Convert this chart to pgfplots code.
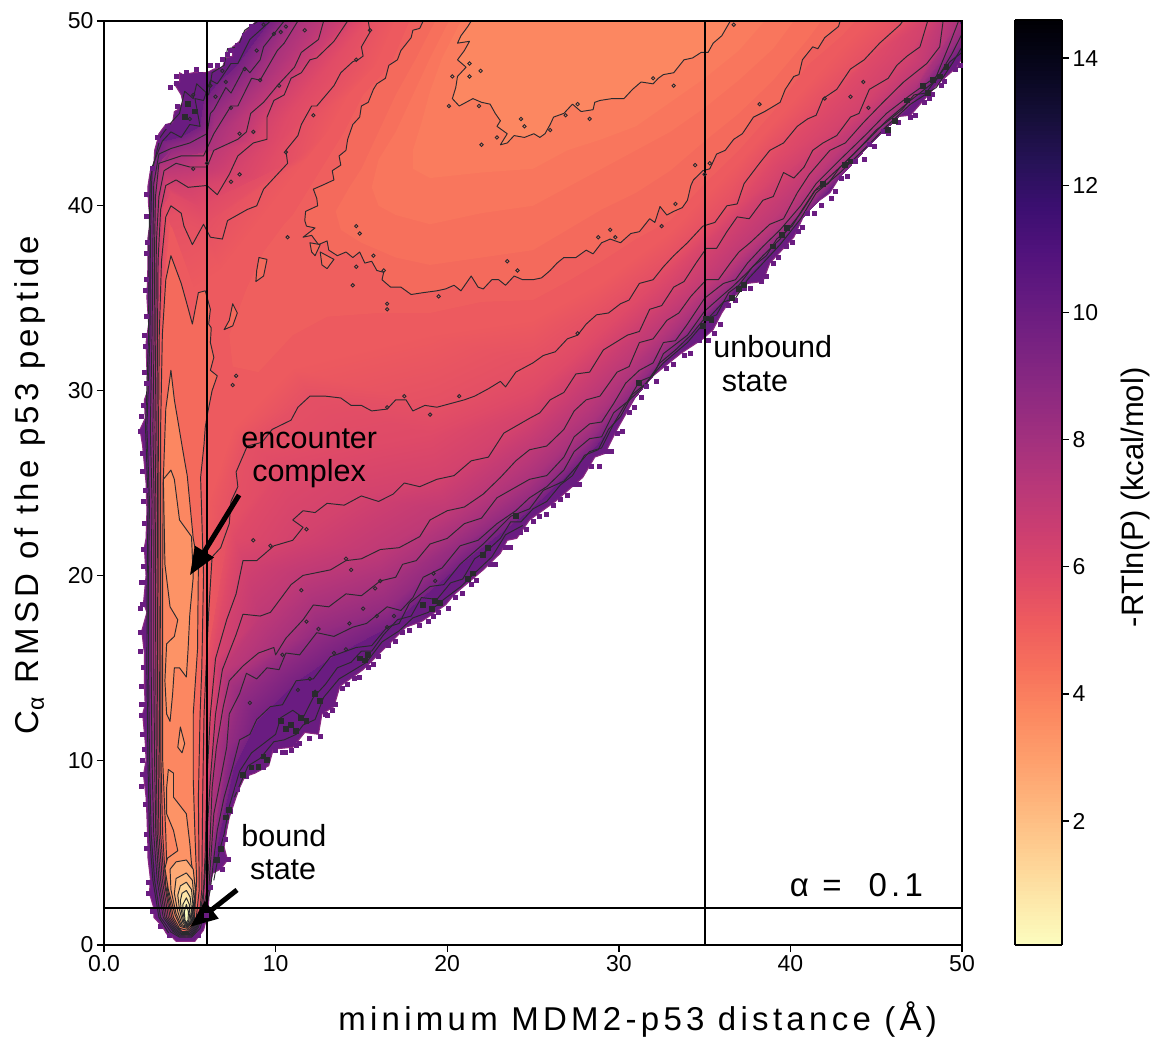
\documentclass[border=0pt]{standalone}
\usepackage{fontspec}
\setmainfont{Liberation Sans}
\newfontfamily\spaced[LetterSpace=13]{Liberation Sans}
\usepackage{pgfplots}
\pgfplotsset{compat=1.18}
\usetikzlibrary{arrows.meta}
\definecolor{vedge}{HTML}{6A1C81}
\definecolor{vrim}{HTML}{8C2981}
\definecolor{f52}{HTML}{ED5A5F}
\definecolor{f50}{HTML}{EF5F5E}
\definecolor{f46}{HTML}{F46A5C}
\definecolor{f44}{HTML}{F7705C}
\definecolor{f42}{HTML}{F9765D}
\definecolor{f40}{HTML}{FA7C5E}
\definecolor{viv}{HTML}{FC8761}
\definecolor{viii3}{HTML}{FD9366}
\definecolor{ba}{HTML}{FEA975}
\definecolor{bb}{HTML}{FEBB82}
\definecolor{bc}{HTML}{FED79A}
\definecolor{bd}{HTML}{FDE5A7}
\definecolor{be}{HTML}{FDF0B2}
\definecolor{bf}{HTML}{FCFDBF}
\definecolor{bg}{HTML}{FCFDBF}
\definecolor{cl}{HTML}{2A2A2E}
\pgfplotsset{
  ct/.style={draw=cl,line width=0.95pt,line join=round},
  dots/.style={only marks,mark=o,mark size=1.7pt,mark options={draw=cl,line width=0.9pt,fill=none}},
  blobs/.style={only marks,mark=square*,mark size=2.4pt,mark options={draw=cl,fill=cl,line width=0pt}},
  pix/.style={only marks,mark=square*,mark size=2pt,mark options={draw=vedge,fill=vedge,line width=0pt}},
}
\begin{document}
\begin{tikzpicture}
\useasboundingbox (-104pt,-94pt) rectangle (1052pt,945pt);
\begin{axis}[
  at={(0pt,0pt)},anchor=south west,scale only axis,width=858pt,height=924pt,
  xmin=0,xmax=50,ymin=0,ymax=50,axis on top,
  axis line style={line width=1.6pt},
  tick align=outside,tick pos=left,major tick length=7pt,
  tick style={line width=1.4pt,black},
  xtick={0,10,20,30,40,50},xticklabels={0.0,10,20,30,40,50},
  ytick={0,10,20,30,40,50},
  /pgf/number format/assume math mode=true,
  tick label style={font=\fontsize{23}{26}\selectfont},
  xlabel={\spaced minimum MDM2-p53 distance (Å)},
  ylabel={\spaced C\raisebox{-0.3ex}{\fontsize{23}{24}\selectfont α} RMSD of the p53 peptide},
  label style={font=\fontsize{33}{36}\selectfont},
  xlabel style={at={(axis description cs:0.622,-0.081)},anchor=center},
  ylabel style={at={(axis description cs:-0.086,0.498)},anchor=center},
  colormap={magmar}{rgb255=(252,253,191) rgb255=(253,231,169) rgb255=(254,207,146) rgb255=(254,183,126) rgb255=(254,159,109) rgb255=(252,137,97) rgb255=(247,112,92) rgb255=(238,91,94) rgb255=(222,73,104) rgb255=(203,62,113) rgb255=(183,55,121) rgb255=(161,48,126) rgb255=(140,41,129) rgb255=(120,34,129) rgb255=(100,26,128) rgb255=(81,18,124) rgb255=(59,15,112) rgb255=(37,18,85) rgb255=(20,14,54) rgb255=(7,6,28) rgb255=(0,0,4)},
  point meta min=0.05,point meta max=14.6,
  colorbar sampled,
  colorbar style={
    at={(1.0618,1.0011)},anchor=north west,scale only axis,width=47pt,height=925pt,
    samples=220,
    axis line style={line width=1.4pt},
    ytick={2,4,6,8,10,12,14},ytick pos=right,yticklabel pos=right,tick align=outside,
    major tick length=7pt,tick style={line width=1.4pt,black},
    /pgf/number format/assume math mode=true,
    tick label style={font=\fontsize{23}{26}\selectfont},
    ylabel={-RTln(P) (kcal/mol)},
    ylabel style={font=\fontsize{31}{33}\selectfont,at={(axis description cs:2.57,0.484)},anchor=center},
  },
]
% outer edge of the sampled region
\addplot[fill=vedge,draw=vrim,line width=1pt] coordinates {(8.9,50)(8.4,49.6)(8.1,49.3)(7.9,48.9)(7.5,48.6)(7.5,48.1)(7.1,48)(6.9,47.5)(6.4,47.4)(6,47.2)(5.2,47.2)(4.6,47.1)(4.4,47.2)(4.4,46.7)(4.1,46.6)(4.5,46)(4.6,45.6)(4.3,45.2)(4.1,45.1)(4,44.5)(3.6,44.4)(3.2,43.9)(3.1,43.5)(2.95,43)(2.9,42.2)(2.7,41.9)(2.55,41)(2.6,40)(2.7,39.2)(2.55,38.2)(2.55,36.5)(2.5,35)(2.6,33.6)(2.45,32.6)(2.5,31)(2.55,30)(2.35,29.5)(2.4,28.5)(2.1,27.9)(2.25,27)(2.35,26)(2.45,25)(2.5,23.5)(2.45,22)(2.35,21.5)(2.45,20)(2.3,18.5)(2.5,18)(2.2,17)(2.35,15.8)(2.35,14)(2.4,13)(2.25,12.5)(2.4,11)(2.45,10)(2.3,9.2)(2.45,8)(2.5,7)(2.55,5.5)(2.55,4.8)(2.7,3.6)(2.65,2.8)(2.9,2)(2.9,1.5)(3.1,1.3)(3.4,1)(3.65,0.6)(3.95,0.45)(4.2,0.2)(5.3,0.2)(5.5,0.45)(5.8,0.8)(6,1.5)(6.1,2.3)(6.15,3.2)(6.35,3.9)(6.8,4.1)(7.2,4.6)(7,5.3)(7.15,6.2)(7.3,6.9)(7.7,8)(7.9,8.5)(8.2,9.1)(8.8,9.3)(9.6,9.7)(9.87,10.6)(11,10.7)(11.7,11.5)(12.5,11.4)(12.7,12.5)(13.4,12.9)(13.75,14)(15.1,14.9)(16.3,16)(17.6,17.2)(18.5,17.5)(19.9,18.4)(20.45,19)(22.1,20.3)(23.1,21.2)(23.5,21.9)(24.05,22)(24.8,23)(26.3,24)(27.9,25.3)(28.6,26.4)(29.2,26.6)(29.9,27.9)(31,29.7)(32,30.8)(33.6,32)(34.9,32.8)(35.5,33.3)(36,34.2)(36.5,34.9)(37.5,35.8)(38.4,35.9)(38.8,36.9)(40.2,38.3)(40.95,39.8)(42.3,40.7)(42.9,41.6)(44.05,42.8)(45.2,43.9)(46,44.8)(47,44.9)(47.75,45.7)(48.6,46.6)(49.7,47.5)(50,48)(50,50)} --cycle;
% pixels that stand out of the edge
\addplot[pix] coordinates {(8.6,49.7)(8.2,49.2)(7.8,48.7)(7.2,48.2)(6.6,47.6)(5.6,47.1)(4.6,47)(4.2,46.6)(4.3,45.4)(3.7,44.3)(3.1,43.7)(2.8,42)(2.5,40.6)(2.55,38)(2.45,36)(2.5,34)(2.4,32.4)(2.45,30.4)(2.3,29.2)(2.15,27.8)(2.25,26.6)(2.4,24.6)(2.3,21.4)(2.35,19.6)(2.25,18.4)(2.15,16.9)(2.3,15)(2.35,13)(2.2,12.4)(2.35,10.6)(2.25,9.2)(2.4,7.6)(2.5,6)(2.45,5.2)(2.6,3.4)(2.6,2.8)(2.85,1.8)(3.3,1)(3.8,0.5)(5.5,0.5)(6,1.6)(6.2,3.1)(6.9,4.1)(7.25,4.6)(7.1,5.7)(7.4,7.2)(7.8,8.4)(8.3,9.1)(9.3,9.6)(10,10.5)(10.6,10.4)(11.2,10.8)(12,11.2)(12.6,11.3)(12.9,12.5)(13.5,13)(13.9,13.9)(14.6,14.4)(15.4,15)(16.6,16.2)(17.4,16.9)(18.4,17.3)(19.5,18)(20.5,18.8)(21.4,19.5)(22.5,20.6)(23.4,21.5)(24.3,22.3)(25.4,23.2)(26.6,24.1)(27.4,24.9)(28.4,25.9)(29.3,26.7)(29.9,27.7)(30.6,28.8)(31.6,30.2)(32.8,31.2)(33.8,31.9)(34.7,32.7)(35.6,33.1)(36.4,34.6)(37.3,35.5)(38.3,35.9)(39,36.9)(39.8,37.8)(40.5,38.6)(41,39.6)(42.4,40.4)(43,41.5)(43.8,42.4)(44.6,43.3)(45.4,44)(47,44.8)(47.8,45.6)(48.8,46.5)(49.6,47.4)(10.4,10.4)(10.9,10.5)(11.4,10.9)(13,12.4)(13.3,12.7)(14.2,14.1)(14.9,14.5)(15.7,15.2)(16,15.6)(17,16.4)(17.8,17)(18.9,17.5)(19.2,17.8)(20.1,18.2)(20.9,19)(21.7,19.7)(22.8,20.6)(23.7,21.5)(24.6,22.5)(25,22.9)(25.8,23.3)(26.2,23.8)(27,24.3)(27.7,24.9)(28.9,25.9)(29.6,26.7)(30.2,27.8)(30.9,29.1)(31.3,29.6)(32.2,30.5)(33.2,31.4)(34.2,32)(35.2,32.7)(35.9,33.6)(36.8,34.9)(37.7,35.5)(38.6,36.2)(39.3,37.2)(40.1,38)(40.7,38.8)(41.4,39.6)(41.8,40)(42.6,40.8)(43.3,41.6)(44.3,42.5)(44.9,43.2)(45.7,43.9)(46.3,44.5)(47.3,44.9)(48.1,45.8)(48.3,46)(49,46.7)(49.9,47.6)(8.5,49.4)(7.4,48.4)(6.9,47.9)(6.2,47.6)(5.4,47.4)(4.8,47.2)(4.2,47)(3.9,46.4)(2.5,39.4)(2.45,37.4)(2.4,35.4)(2.35,33)(2.35,31)(2.2,28.6)(2.25,25.6)(2.3,24)(2.35,22.8)(2.3,20.5)(2.2,19.6)(2.15,18.2)(2.1,15.9)(2.2,14)(2.2,13)(2.25,11.4)(2.25,10)(2.2,8.6)};
% smooth shading between the contour levels
\addplot[surf,shader=interp,mesh/cols=30,point meta=\thisrow{v}] table[row sep=\\] {x y v\\
9.7 50 9.5\\7.8 47.7 9.5\\6.6 46.6 9.5\\5.8 45.7 9.5\\5.6 44.3 9.5\\4.5 43.7 9.5\\3.4 43.5 9.5\\2.8 42.1 9.5\\2.68 33 9.5\\2.6 20 9.5\\2.65 10 9.5\\2.75 6 9.5\\3.3 1.5 9.5\\4.75 0.42 9.5\\5.95 2 9.5\\6.4 4.7 9.5\\7.5 9.65 9.5\\8.9 12.2 9.5\\11.2 14.3 9.5\\13.2 15.6 9.5\\16.5 17.2 9.5\\20.75 20.6 9.5\\24.8 23.6 9.5\\28.3 26.7 9.5\\32.6 31.5 9.5\\36.1 34.8 9.5\\40.6 39.3 9.5\\44.45 43.2 9.5\\47 45.5 9.5\\50 48.6 9.5\\
10.5 50 8.5\\8.5 47.2 8.5\\7.4 46.1 8.5\\6.4 45.2 8.5\\6 43.9 8.5\\5 43.4 8.5\\3.9 43.1 8.5\\2.9 41.2 8.5\\2.8 33 8.5\\2.75 20 8.5\\2.8 10 8.5\\2.9 6 8.5\\3.45 1.5 8.5\\4.75 0.48 8.5\\5.85 2 8.5\\6.25 5 8.5\\7.15 10.7 8.5\\7.9 13.6 8.5\\9.5 15 8.5\\12.4 16.9 8.5\\16.5 18.3 8.5\\20.75 21.6 8.5\\24.8 24.2 8.5\\28.3 27.4 8.5\\32.6 32 8.5\\36.1 35.2 8.5\\40.6 39.6 8.5\\44.45 43.5 8.5\\47 45.7 8.5\\50 49.3 8.5\\
11.3 50 7.75\\9.1 46.8 7.75\\7.8 45.4 7.75\\6.4 43.9 7.75\\5.8 42.7 7.75\\4.5 42.7 7.75\\3.2 42.3 7.75\\3 40.5 7.75\\2.92 33 7.75\\2.9 20 7.75\\2.95 10 7.75\\3.02 6 7.75\\3.55 1.5 7.75\\4.75 0.53 7.75\\5.8 2 7.75\\6.15 5 7.75\\6.55 10.7 7.75\\7.3 14.3 7.75\\9.9 16.1 7.75\\12.2 18.4 7.75\\16.1 19.7 7.75\\21 22.8 7.75\\24.8 25.2 7.75\\28.3 28.2 7.75\\32.6 32.6 7.75\\36.1 35.8 7.75\\40.6 40 7.75\\44.45 43.9 7.75\\47 46 7.75\\49.8 50 7.75\\
12.8 50 7.05\\10.1 46.5 7.05\\8.55 45 7.05\\7.8 43.6 7.05\\6.4 43 7.05\\5 42.1 7.05\\3.5 41.9 7.05\\3.2 40.5 7.05\\3.02 33 7.05\\3 20 7.05\\3.05 10 7.05\\3.1 6 7.05\\3.65 1.5 7.05\\4.75 0.58 7.05\\5.75 2 7.05\\5.95 5 7.05\\6.2 9 7.05\\6.9 14.9 7.05\\9.1 17.8 7.05\\11.6 20 7.05\\16.1 21.4 7.05\\20 23.5 7.05\\24.8 26.8 7.05\\28.1 29.5 7.05\\32.8 33.8 7.05\\36.5 36.9 7.05\\40.4 40.7 7.05\\44.25 44.5 7.05\\47.95 47.7 7.05\\48.9 50 7.05\\
14.2 50 6.3\\11.5 47.2 6.3\\9.5 44.8 6.3\\8.7 43.4 6.3\\7.3 41.7 6.3\\4.9 41 6.3\\3.6 41.1 6.3\\3.3 39.8 6.3\\3.12 33 6.3\\3.1 20 6.3\\3.15 10 6.3\\3.2 6 6.3\\3.75 1.5 6.3\\4.75 0.63 6.3\\5.65 2 6.3\\5.9 5 6.3\\6 9 6.3\\6.5 15.5 6.3\\8.1 20.8 6.3\\11 21.9 6.3\\15 24.3 6.3\\19.4 25.2 6.3\\24.8 28.5 6.3\\27.5 30.9 6.3\\33.2 35.6 6.3\\36.9 39.4 6.3\\39.6 41.8 6.3\\43.5 44.8 6.3\\46.8 48.1 6.3\\48 50 6.3\\
14.8 50 5.85\\12 46.5 5.85\\10.7 44.9 5.85\\10 43.4 5.85\\8.9 41.5 5.85\\5.5 40 5.85\\3.9 40.7 5.85\\3.45 40 5.85\\3.16 33 5.85\\3.16 20 5.85\\3.2 10 5.85\\3.25 6 5.85\\3.8 1.5 5.85\\4.75 0.66 5.85\\5.62 2 5.85\\5.8 5 5.85\\5.9 9 5.85\\6.2 15 5.85\\7.6 22 5.85\\10.5 26 5.85\\15 26.9 5.85\\19 27.6 5.85\\25 30 5.85\\27 31.5 5.85\\33 36.5 5.85\\37 40.2 5.85\\39 42.5 5.85\\43 46.3 5.85\\45 48.3 5.85\\47 50 5.85\\
15.4 50 5.6\\13.8 47.2 5.6\\12.4 45.4 5.6\\11.5 44.4 5.6\\10.7 42.3 5.6\\5.8 39 5.6\\4.5 39.6 5.6\\3.6 39.4 5.6\\3.22 33 5.6\\3.2 20 5.6\\3.25 10 5.6\\3.3 6 5.6\\3.85 1.5 5.6\\4.75 0.68 5.6\\5.6 2 5.6\\5.72 5 5.6\\5.78 9 5.6\\5.95 15 5.6\\7.3 22.8 5.6\\8.35 27 5.6\\12 29.7 5.6\\19.4 29.1 5.6\\25 31.5 5.6\\28.1 33.6 5.6\\32.6 36.7 5.6\\36.3 40 5.6\\38.8 43 5.6\\41.9 45.8 5.6\\45.2 48.8 5.6\\46.55 50 5.6\\
17 50 5.2\\15.9 47.6 5.2\\14.3 46 5.2\\13.1 44 5.2\\12 42.7 5.2\\6.8 36.5 5.2\\5.2 35.5 5.2\\3.9 38.8 5.2\\3.25 33 5.2\\3.25 20 5.2\\3.28 10 5.2\\3.38 6 5.2\\3.9 1.5 5.2\\4.75 0.7 5.2\\5.5 2 5.2\\5.6 5 5.2\\5.65 9 5.2\\5.8 15 5.2\\6.1 24 5.2\\7.5 28 5.2\\11 31.2 5.2\\19 33 5.2\\25 33.8 5.2\\29 35.9 5.2\\33 38.6 5.2\\37 42.4 5.2\\39 44.5 5.2\\41 46.6 5.2\\43 48.6 5.2\\44.5 50 5.2\\
};
% the region inside the shaded band
\addplot[fill=f52,draw=f52,line width=2.5pt,line join=round] coordinates {(17,50)(15.9,47.6)(14.3,46)(13.1,44)(12,42.7)(6.8,36.5)(5.2,35.5)(3.9,38.8)(3.27,33)(3.27,20)(3.3,10)(3.4,6)(3.92,1.6)(4.75,0.75)(5.48,2)(5.58,5)(5.63,9)(5.78,15)(6.1,24)(7.5,28)(11,31.2)(19,33)(25,33.8)(29,35.9)(33,38.6)(37,42.4)(39,44.5)(41,46.6)(43,48.6)(44.5,50)} --cycle;
\addplot[fill=f50,draw=none] coordinates {(17.8,50)(16.7,47.6)(15.1,46)(14,44)(13,42.5)(12,41)(11,39.5)(10.5,39)(9.3,37.5)(8.3,35.5)(7.3,33)(7.5,31.3)(9,31)(11,33)(13,34)(16,34.2)(19,34.2)(22,34.8)(25,34.9)(27,35.9)(29,37)(31,38.2)(33,39.2)(35,41.2)(37,43)(39,45.1)(41,47.6)(43,49.2)(43.8,50)} --cycle;
% level 5, open fan
\addplot[fill=f46,ct] coordinates {(18.6,50)(18.4,49.6)(18,49.5)(17.9,49.1)(17.3,48.4)(17.1,47.9)(16.6,47.6)(16.4,46.9)(15.9,46.6)(15.7,46.3)(15.4,45.6)(15,45.4)(14.9,44.8)(14.5,44.4)(14.2,43.6)(14.1,43)(13.7,42.7)(13.8,42.2)(13.3,41.9)(13.4,41.4)(12.7,41.1)(12.2,40.9)(12.4,40.4)(12.45,40)(11.75,39.7)(11.7,39.2)(11.8,38.9)(12.3,38.8)(11.6,38.3)(12.1,38.4)(12.5,37.9)(13,38.1)(13.1,37.6)(13.6,37.3)(14.1,37.5)(14.5,37.2)(14.9,37.5)(15.2,36.9)(15.6,37)(15.9,36.5)(16.3,36.4)(16.2,36)(16.7,35.6)(17.3,35.6)(17.9,35.2)(18.6,35.3)(19.4,35.4)(19.9,35.5)(20.4,35.7)(20.8,35.4)(21.4,36.2)(21.8,35.6)(22.1,35.5)(22.6,36)(23,36)(23.4,35.7)(23.9,36.2)(24.4,36)(25,36)(25.5,36.1)(26,36.5)(26.4,36.9)(26.8,37.2)(27.5,37.2)(28.1,37.6)(28.5,37.4)(29,38)(29.5,38.2)(30.1,38)(30.7,38.5)(31.2,38.6)(31.8,39.3)(32.1,39.1)(32.4,39.96)(32.8,39.5)(33.2,39.7)(33.7,39.9)(34,40.3)(34.2,41.1)(34.35,41.4)(34.9,41.9)(35.3,42)(35.7,42.8)(36.2,43)(36.7,43.6)(37.2,43.9)(37.85,44.8)(38.5,45.1)(39.4,45.6)(39.7,46.3)(40.2,47)(40.5,47.1)(40.7,47.9)(41.3,48.6)(41.6,48.5)(42,49.1)(42.8,49.7)(42.9,50)} --cycle;
% level 5, channel
\addplot[fill=f46,ct] coordinates {(3.9,37.3)(4.5,35.8)(4.8,34.8)(5.15,33.6)(5.5,35.3)(5.9,35.4)(6.2,34.4)(6.1,33.6)(6.25,33.4)(6.2,32.6)(6.4,31.8)(6.2,31.1)(6.6,30.8)(6.3,30)(6,28.6)(5.9,28)(5.83,27.1)(5.63,25.3)(5.8,20)(5.7,15)(5.6,12.5)(5.5,8)(5.55,3)(5.35,1.25)(4.9,0.72)(4.55,0.72)(4.25,1)(3.95,1.5)(3.6,3.2)(3.42,6)(3.32,10)(3.3,20)(3.3,28)(3.4,33)(3.6,36)} --cycle;
% small closed level 5 loops
\addplot[fill=f46,ct] coordinates {(9.03,37.2)(9.5,37.1)(9.3,36.2)(8.85,35.9)(8.9,36.5)} --cycle;
\addplot[fill=f46,ct] coordinates {(7.5,34.7)(7.77,34.2)(7.5,33.5)(7,33.3)(7.3,33.8)} --cycle;
\addplot[fill=f46,ct] coordinates {(12.6,37.5)(13.4,37.1)(13,36.6)(12.7,36.8)} --cycle;
\addplot[fill=f46,ct] coordinates {(12,38)(12.6,37.9)(12.3,37.3)(12.1,37.5)} --cycle;
\addplot[fill=f46,ct] coordinates {(32.9,47)(34.5,47.9)(34.6,47.5)(33.4,46.8)} --cycle;
% inside level 5, no line
\addplot[fill=f44,draw=none] coordinates {(19.3,50)(18.2,48)(17,46)(16,44)(15,42)(14.3,41)(13.5,39.7)(13.8,38.7)(15,38)(17,37.2)(19,36.8)(22,37.2)(25,37.6)(27,38.7)(29,39.8)(31,40.7)(33,41.9)(35,43.5)(37,45)(39,46.8)(41,49)(41.8,50)} --cycle;
\addplot[fill=f42,draw=none] coordinates {(20.1,50)(19,48)(18,46)(17,44)(16,42.5)(15.6,41)(16,40)(17,39.5)(19,39)(22,39.6)(25,40)(27,41)(29,42)(31,43)(33,44)(35,45.3)(37,46.8)(39,48.5)(40.2,50)} --cycle;
\addplot[fill=f40,draw=none] coordinates {(20.8,50)(19.7,48)(19,46.2)(18.5,44.5)(18,43)(18,42)(19,41.5)(22,41.8)(25,42)(27,43)(29,43.6)(31,44.3)(33,45.6)(35,46.9)(37,48.4)(38.5,50)} --cycle;
% level 4
\addplot[fill=viv,ct] coordinates {(21.4,50)(21.2,49.7)(20.8,49.2)(20.6,48.8)(21.3,48.9)(21,48.4)(20.6,47.9)(21.1,47.5)(20.6,47)(20.5,46.4)(20.3,45.8)(20.7,45.4)(21.1,45.6)(21.5,45.8)(22,45.6)(22.5,45.5)(22.8,45)(23.1,44.6)(22.9,44.3)(23.5,43.9)(23.1,43.3)(23.5,43.4)(23.9,43.8)(24.5,43.7)(25.05,43.9)(25.4,43.7)(25.7,43.9)(26,44.4)(26.2,44.8)(26.8,45)(27.3,45.5)(27.8,45.1)(28.5,45.2)(28.6,45.6)(28.9,45.7)(29.6,45.8)(30.3,45.8)(30.8,46.3)(31.3,46.7)(32,46.6)(32.3,46.9)(32.6,47.1)(33.2,47.2)(33.8,47.9)(34.3,48)(34.8,48.3)(35.2,48.3)(35.5,48.8)(36,49.2)(36.5,50)} --cycle;
\addplot[fill=viv,ct] coordinates {(3.9,31.1)(4.1,29.5)(4.66,26.4)(4.85,25.4)(5.2,22)(5.5,20.5)(5.45,16)(5.2,12.5)(5.2,9)(5.3,6)(5.4,3.5)(5.25,1.2)(4.85,0.8)(4.4,0.9)(4.05,1.5)(3.7,3)(3.6,6)(3.42,10)(3.42,20)(3.45,25)(3.6,29)} --cycle;
% level 3, two lobes
\addplot[fill=viii3,ct] coordinates {(3.9,25.7)(4.1,25.2)(4.4,23)(5.1,22.1)(5.2,19.9)(5,17.9)(4.9,16)(4.8,14.5)(4.4,15)(4.1,15)(4,13.6)(3.85,12.1)(3.65,12.5)(3.55,14.3)(3.65,16.3)(4.1,16.7)(4.3,17.6)(3.85,18.3)(3.55,20.6)(3.46,25.2)} --cycle;
\addplot[fill=viii3,ct] coordinates {(4.45,11.8)(4.7,10.9)(4.55,10.4)(4.3,10.7)} --cycle;
\addplot[fill=viii3,ct] coordinates {(3.75,9.5)(4.05,9.3)(4.05,8)(4.8,7.1)(5,5.5)(5.1,4.4)(5.35,3)(5.2,1.3)(4.85,0.9)(4.45,1)(4.15,1.6)(3.75,3)(3.55,4.15)(3.7,4.7)(4.3,5.1)(4.05,6.2)(3.65,7.1)(3.65,8.5)} --cycle;
% the bound basin
\addplot[fill=ba,ct] coordinates {(4.8,4.6)(5.2,4.1)(5.32,3)(5.15,1.3)(4.85,0.95)(4.5,1.05)(4.2,1.7)(3.9,3)(3.85,4.1)(4.2,4.5)} --cycle;
\addplot[fill=bb,ct] coordinates {(4.8,3.9)(5.15,3.5)(5.25,2.5)(5.1,1.3)(4.85,1)(4.55,1.1)(4.3,1.8)(4.1,2.8)(4.2,3.6)} --cycle;
\addplot[fill=bc,ct] coordinates {(4.8,3.4)(5.1,3)(5.18,2.2)(5.05,1.25)(4.82,1.03)(4.6,1.2)(4.4,1.9)(4.3,2.7)(4.45,3.2)} --cycle;
\addplot[fill=bd,ct] coordinates {(4.8,2.95)(5.02,2.6)(5.1,1.9)(5,1.25)(4.82,1.07)(4.65,1.25)(4.5,1.9)(4.45,2.4)(4.55,2.8)} --cycle;
\addplot[fill=be,ct] coordinates {(4.8,2.55)(4.97,2.2)(5,1.7)(4.93,1.25)(4.8,1.12)(4.7,1.3)(4.6,1.8)(4.6,2.2)} --cycle;
\addplot[fill=bf,ct] coordinates {(4.8,2.2)(4.92,1.8)(4.9,1.35)(4.8,1.2)(4.72,1.35)(4.68,1.8)} --cycle;
% contour lines of the shaded band
% outermost levels close to the edge
\addplot[ct] coordinates {(6.4,3.5)(6.7,5)(7,6)(7.3,7.5)(7.9,9.4)(8.6,10.4)(9.3,10.9)(10,11.4)(10.3,12.3)(11,12.7)(11.6,12.3)(12.2,13.4)(12.9,14.1)(13.6,15)(14.4,15.3)(15,15.9)(15.6,15.9)(16.3,16.8)(17.1,17.6)(17.9,17.8)(18.5,18.8)(19.4,18.7)(20.2,19.6)(20.9,19.8)(21.6,20.9)(22.4,21.4)(23.1,22)(23.7,22.9)(24.3,22.9)(25,23.6)(25.8,24)(26.6,24.9)(27.3,25.4)(28,26.5)(28.8,26.8)(29.4,27.9)(30.1,28.6)(30.8,29.8)(31.6,30.4)(32.4,31.5)(33.3,32.2)(34.2,33)(34.9,33.8)(35.7,34.1)(36.4,35.3)(37,35.7)(37.8,36.7)(38.6,37.3)(39.2,38.2)(40.1,38.9)(40.7,39.8)(41.4,40.8)(42.2,41.2)(42.9,42.1)(43.7,42.8)(44.4,43.5)(45,44.1)(45.7,44.6)(46.5,45.2)(47.2,46)(47.9,46.1)(48.6,47)(49.3,47.8)(50,48.3)};
\addplot[ct] coordinates {(7.6,8)(8.4,9.7)(9.1,10.1)(9.9,11)(10.5,11.1)(11.2,11.4)(11.6,11.9)(12.3,12.2)(12.8,13.4)(13.7,14.4)(14.6,14.9)(15.3,15.3)(16.2,16.4)(17.2,17)(18,17.7)(18.9,18)(19.8,18.7)(20.8,19.4)(21.8,20.3)(22.6,21)(23.4,22.2)(24.4,22.7)};
\addplot[ct] coordinates {(9,50)(8.2,49.5)(7.8,48.6)(7.2,48.5)(7,47.6)(6.3,47.2)(6.1,46)(5.4,46.6)(5.2,45.8)(4.7,46.2)(4.4,45)(4,44.6)(3.5,44)(3.2,43.6)};
\addplot[ct] coordinates {(3.2,43.4)(2.7,41.5)(2.62,38)(2.6,33)(2.42,28)(2.57,24)(2.52,20)(2.5,15)(2.56,10)(2.65,6)(2.85,3.5)(3.2,1.5)(3.8,0.6)};
% level 11
\addplot[ct] coordinates {(9.7,50)(8.5,49)(7.8,47.7)(7.4,47.7)(6.6,46.6)(6.2,46.8)(5.8,45.7)(5.3,45.8)(5.6,44.3)(5,44.4)(4.5,43.7)(3.9,44)(3.4,43.5)(2.8,42.1)(2.7,38)(2.68,33)(2.5,28)(2.65,24)(2.6,20)(2.6,15)(2.65,10)(2.75,6)(2.95,3.5)(3.3,1.5)(3.9,0.7)(4.4,0.42)(5.1,0.42)(5.6,0.9)(5.95,2)(6.2,3)(6.4,4.7)(6.6,6.2)(7,8)(7.5,9.65)(7.9,11.1)(8.5,11.4)(8.9,12.2)(9.7,12.9)(10.4,13)(11.2,14.3)(12.2,14.4)(13.2,15.6)(14.7,16.1)(15.6,16.2)(16.5,17.2)(17.2,17.4)(17.8,18.5)(19,19.4)(19.8,19.5)(20.75,20.6)(22.1,21.7)(23.7,23.2)(24.8,23.6)(25.6,24.6)(26.8,25.1)(28.3,26.7)(29,26.9)(29.7,28.2)(30.4,29.3)(31.2,30)(32.6,31.5)(34,32.6)(35,33.7)(36.1,34.8)(36.8,35)(37.5,36)(38.4,36.9)(39.4,37.9)(40.6,39.3)(41.5,40.7)(42.9,41.8)(44.45,43.2)(45.6,44.3)(47,45.5)(48.5,46.4)(49.5,47.8)(50,48.6)};
% level 10
\addplot[ct] coordinates {(10.5,50)(9.3,48.6)(9.1,47.9)(8.5,47.2)(8.2,47.5)(7.4,46.1)(7.1,46.4)(6.4,45.2)(6.2,45)(6,43.9)(5,43.4)(3.9,43.1)(3.2,42.8)(2.9,41.2)(2.85,38)(2.8,33)(2.7,28)(2.8,24)(2.75,20)(2.75,15)(2.8,10)(2.9,6)(3.1,3.5)(3.45,1.5)(4,0.75)(4.4,0.48)(5.1,0.48)(5.5,0.95)(5.85,2)(6.1,3)(6.25,5)(6.4,7.1)(6.8,9)(7.15,10.7)(7.3,12.5)(7.9,13.6)(8.3,14.7)(8.9,14.4)(9.5,15)(10.2,14.9)(10.6,15.8)(11.4,15.7)(12.4,16.9)(13.4,16.7)(14.5,17.2)(15.3,17.4)(16.5,18.3)(17.3,18.1)(18,18.8)(18.6,19.9)(19.7,20.4)(20.75,21.6)(21.8,21.9)(22.9,22.8)(24,23.5)(24.8,24.2)(25.8,24.8)(26.8,25.7)(27.4,26.7)(28.3,27.4)(29,27.5)(29.7,28.8)(30.5,29.4)(31.2,30.5)(32,30.8)(32.6,32)(34,33)(35,34.3)(36.1,35.2)(36.6,35.6)(37.5,36.4)(38.4,37.3)(39.4,38.2)(40.6,39.6)(41.5,40.9)(42.9,42.1)(44.45,43.5)(45.6,44.6)(47,45.7)(48.5,46.8)(49.4,48.2)(50,49.3)};
% level 9
\addplot[ct] coordinates {(11.3,50)(10.5,48.8)(10.1,48.4)(9.1,46.8)(8.6,46.9)(7.8,45.4)(7.4,45.4)(6.4,43.9)(5.8,42.7)(4.5,42.7)(3.2,42.3)(3,40.5)(2.95,38)(2.92,33)(2.85,28)(2.92,24)(2.9,20)(2.9,15)(2.95,10)(3.02,6)(3.2,3.5)(3.55,1.5)(4.05,0.8)(4.45,0.53)(5.1,0.53)(5.45,1)(5.8,2)(6,3)(6.15,5)(6.3,8.5)(6.55,10.7)(6.95,12.9)(7.3,14.3)(8.1,15.1)(9,15.8)(9.9,16.1)(10,15.7)(10.6,16.6)(11.6,17.6)(12.2,18.4)(13.1,18.3)(14.1,19)(15,18.9)(16.1,19.7)(17,19.9)(17.4,20.6)(18.2,20.8)(19,21.7)(20,22)(21,22.8)(22,23.1)(22.9,24.2)(24.8,25.2)(25.8,25.4)(26.8,26.4)(27.4,27.5)(28.3,28.2)(29,28.3)(29.7,29.3)(30.4,30.4)(31.2,31.1)(32,31.5)(32.6,32.6)(33.3,32.7)(34,33.6)(34.5,34.3)(35,35)(36.1,35.8)(36.8,36)(37.5,36.9)(38.4,37.8)(39.4,38.7)(40.6,40)(41.5,41.2)(42.9,42.5)(44.45,43.9)(45.6,45)(47,46)(48.5,47)(49.3,48.8)(49.8,50)};
% level 8
\addplot[ct] coordinates {(12.8,50)(12.5,49)(11.5,48.3)(11.1,47.5)(10.1,46.5)(9.3,45.6)(8.55,45)(8.3,44)(7.8,43.6)(6.4,43)(6,42.1)(5,42.1)(4.2,42.3)(3.5,41.9)(3.2,40.5)(3.05,38)(3.02,33)(2.97,28)(3.02,24)(3,20)(3.02,15)(3.05,10)(3.1,6)(3.3,3.5)(3.65,1.5)(4.1,0.85)(4.5,0.58)(5.05,0.58)(5.42,1.05)(5.75,2)(5.9,4)(6,6)(6.2,9)(6.5,12.5)(6.9,14.9)(7.7,16.8)(8.1,17.9)(9.1,17.8)(9.7,18)(10.1,18.5)(10.9,19.5)(11.6,20)(13.2,20.3)(14.1,20.8)(15,20.9)(16.1,21.4)(17.2,21.5)(18.4,22.1)(19,23)(20,23.5)(21,23.7)(22.1,24.4)(23.1,25.3)(24,26.2)(24.8,26.8)(25.8,27)(26.8,27.9)(27.4,28.9)(28.1,29.5)(28.9,29.7)(29.9,31)(30.6,31.3)(31.2,32.6)(32,32.8)(32.8,33.8)(33.5,34.2)(34.2,35.1)(35.1,36)(35.8,36)(36.5,36.9)(37,37.5)(37.65,38)(38.8,39)(39.6,39.3)(40.4,40.7)(41.1,41.7)(42.3,43)(43.2,43.4)(44.25,44.5)(45.4,45.6)(46.6,46.7)(47.95,47.7)(48.7,48.6)(48.9,50)};
% level 7
\addplot[ct] coordinates {(14.2,50)(13.4,48.9)(12.4,48)(12,47.9)(11.5,47.2)(10.9,46.9)(10.5,46)(9.9,45.7)(9.5,44.8)(9.5,43.6)(8.7,43.4)(7.8,42.7)(7.3,41.7)(6.6,40.6)(6,41.1)(4.9,41)(4.2,41.4)(3.6,41.1)(3.3,39.8)(3.15,37)(3.12,33)(3.08,28)(3.12,24)(3.1,20)(3.12,15)(3.15,10)(3.2,6)(3.4,3.5)(3.75,1.5)(4.15,0.9)(4.5,0.63)(5,0.63)(5.38,1.1)(5.65,2)(5.8,3)(5.9,5)(6,9)(6.2,12.5)(6.5,15.5)(7.15,17.6)(7.7,19)(8.1,20.8)(8.9,20.8)(9.9,21.6)(11,21.9)(11.6,22.6)(11,23)(11.6,23.5)(12.3,23.4)(13,23.9)(14,23.8)(15,24.3)(16,24)(16.85,24.4)(17.5,25)(18.4,24.8)(19.4,25.2)(20.4,25.4)(21.4,26.2)(22.4,26.4)(23.3,27.7)(24.8,28.5)(25.4,28.8)(26,29.5)(26.8,29.9)(27.5,30.9)(28.3,31)(29.1,32.2)(30.5,33)(31.2,33.2)(31.8,34.4)(32.5,34.6)(33.2,35.6)(33.8,35.9)(34.5,36.9)(35.1,37.7)(35.7,37.7)(36.3,38.6)(36.9,39.4)(37.6,39.3)(38.4,40.3)(39,40.5)(39.6,41.8)(40.2,41.5)(40.8,42.1)(41.3,43)(41.9,43.4)(42.7,43.8)(43.5,44.8)(44,45)(44.6,46.3)(45.7,46.9)(46.2,47.6)(46.8,48.1)(47.55,48.6)(48,50)};
% level 6
\addplot[ct] coordinates {(15.4,50)(15.5,49.4)(15,48.6)(15.1,48.1)(14.8,47.9)(14.5,47.8)(13.8,47.2)(13.4,46.5)(12.4,45.4)(12.1,45.4)(11.5,44.4)(11.3,43.8)(10.6,43)(10.7,42.3)(10.2,41.8)(9.3,40.9)(8.9,40)(8.35,39.8)(7.2,39.2)(6.9,38.2)(6.2,38.3)(5.8,39)(5.15,37.9)(4.66,38.9)(4.5,39.6)(3.9,40)(3.6,39.4)(3.35,37)(3.22,33)(3.18,28)(3.2,24)(3.2,20)(3.22,15)(3.25,10)(3.3,6)(3.5,3.5)(3.85,1.5)(4.2,0.95)(4.55,0.68)(4.95,0.68)(5.35,1.15)(5.6,2)(5.7,3)(5.75,8)(5.83,12.5)(5.95,15)(6.1,18)(6.3,21)(6.8,21.5)(7.3,22.8)(7.4,24)(7.8,24.8)(7.7,25.6)(8.35,27)(9.2,27.2)(9.8,27.9)(10.9,28.4)(11.3,29.1)(12,29.7)(12.9,29.7)(13.8,29.6)(14.4,29.2)(15,29.2)(15.6,28.9)(16.5,29)(17,29.5)(17.6,29.5)(18,28.9)(18.7,29.2)(19.4,29.1)(20.2,29.3)(21,29.5)(21.6,29.7)(22.4,30.1)(23.1,30.5)(23.4,30.2)(24,31)(25,31.5)(25.6,31.9)(26.3,32.1)(27,32.8)(27.6,33)(28.1,33.6)(28.7,34.1)(29.4,34.2)(30.1,34.7)(30.6,34.9)(31.2,35.8)(32,36)(32.6,36.7)(33.2,37.3)(34,38)(34.9,38.9)(35.6,39.1)(36.3,40)(36.9,40.1)(37.3,41.2)(38.2,42.3)(38.8,43)(39.6,43.4)(40.4,44.3)(41,44.7)(41.5,44.9)(41.9,45.8)(42.7,46.3)(43.5,47.4)(44.3,47.9)(45.2,48.8)(46.4,49.8)(46.55,50)};
% small isolated contour loops
\addplot[dots] coordinates {(21.3,47.7)(20.3,47)(21.95,47.3)(21.3,47)(20.1,45.4)(21.85,45.4)(22.9,43.7)(22,43.3)(24.5,44.3)(24.3,44.7)(10.7,38.3)(14.7,38.9)(14.9,38.5)(15.7,37.3)(14.7,36.7)(14.5,35.7)(16.3,36.5)(19.5,35.1)(16.5,34.7)(16.5,34.4)(24.1,36.5)(23.5,37)(7.5,30.3)(7.7,30.8)(17.5,29.7)(16.5,29.1)(20.7,29.7)(19,28.7)(7.9,41.7)(7.4,41.3)(10.6,42.9)(12.2,44.9)(7.9,43.9)(8.7,44)(10.2,46.5)(15.5,49.5)(14.7,47.9)(11.7,49.5)(10.3,49.4)(9.1,46.8)(8.2,47.4)(7.4,45.3)(6,42.3)(5.2,42)(26,44.1)(26.9,44.9)(28.3,44.7)(27.6,45.5)(32,46.9)(33.2,46.5)(35.3,42.3)(34.45,42.2)(29.8,38.3)(28.8,38.3)(29.5,38.7)(32.5,38.9)(33.3,40.1)(27.6,33.1)(38.2,45.5)(42,45.8)(44.25,46.7)(43.5,45.9)(44.55,45.3)(36.7,49.8)(8.7,21.9)(9.7,21.6)(11.8,22.5)(14.1,20.9)(14.4,20.3)(11.5,19.2)(16.1,19.7)(15.8,19.3)(15.1,18.2)(15.9,17.8)(16.9,17.8)(14.3,17.4)(16.5,17.2)(19.2,20.1)(19.3,19.7)(11.8,17.5)(12.5,17.1)(10.4,15.7)(8.5,13.1)(11.3,13.8)(12,14.4)(13.4,15.8)(14.1,16)(12.3,13.7)(35,41.7)(6.9,47.3)(6.2,46.5)(5.2,46)(7.1,46.7)(5,44.7)(6.5,45.9)(8.9,48.4)(9.9,49.3)(10.6,49.7)(9.3,49.8)};
% dark clusters along the edges
\addplot[blobs] coordinates {(9.3,10.2)(9,9.65)(9.5,10)(8.6,9.6)(10.3,12.1)(10.6,11.7)(10.9,11.9)(11.2,11.6)(11.5,12.3)(11.8,12.1)(12.3,13.6)(12.6,13.2)(19.1,18.2)(18.6,18.4)(19.6,18.5)(19.3,18.6)(21.2,19.8)(21.5,20.1)(22.4,21.5)(22.1,21.1)(24,23.2)(15.4,15.7)(14.9,15.5)(15.2,15.4)(8.1,9.2)(7.3,7.3)(7.1,6.9)(6.8,5.2)(6.6,4.6)(37.3,35.7)(36.6,35)(37,35.5)(35.1,33.9)(35.4,33.8)(34.9,33.5)(39.8,38.8)(39.5,38.4)(39,37.8)(43.2,42.2)(43.5,42.4)(41.9,41.2)(45.7,44.1)(46.1,44.6)(47.75,46.5)(48.3,46.8)(48,46.1)(49.1,47.5)(48.7,47)(46.8,45.7)(31.2,30.4)(5.3,45.1)(4.9,45.5)(4.7,44.8)};
% reference lines
\addplot[black,line width=2pt] coordinates {(6,0)(6,50)};
\addplot[black,line width=2pt] coordinates {(35,0)(35,50)};
\addplot[black,line width=1.8pt] coordinates {(0,2)(50,2)};
% arrows
\draw[line width=5pt,black,-{Triangle[length=28pt,width=21pt]}] (axis cs:7.87,24.35) -- (axis cs:5,20);
\draw[line width=5pt,black,-{Triangle[length=28pt,width=21pt]}] (axis cs:7.75,2.98) -- (axis cs:5,0.97);
% text
\tikzset{lab/.style={anchor=west,inner sep=0pt,font=\fontsize{30.5}{33}\selectfont}}
\node[lab] at (axis cs:8.0,27.4) {encounter};
\node[lab] at (axis cs:8.63,25.5) {complex};
\node[lab] at (axis cs:8.0,5.9) {bound};
\node[lab] at (axis cs:8.5,4.06) {state};
\node[lab] at (axis cs:35.5,32.4) {unbound};
\node[lab] at (axis cs:36,30.5) {state};
\node[anchor=center,inner sep=0pt,font=\fontsize{33}{36}\selectfont] at (axis cs:43.85,3.25) {\spaced α =\ \ 0.1};
\end{axis}
\end{tikzpicture}
\end{document}
